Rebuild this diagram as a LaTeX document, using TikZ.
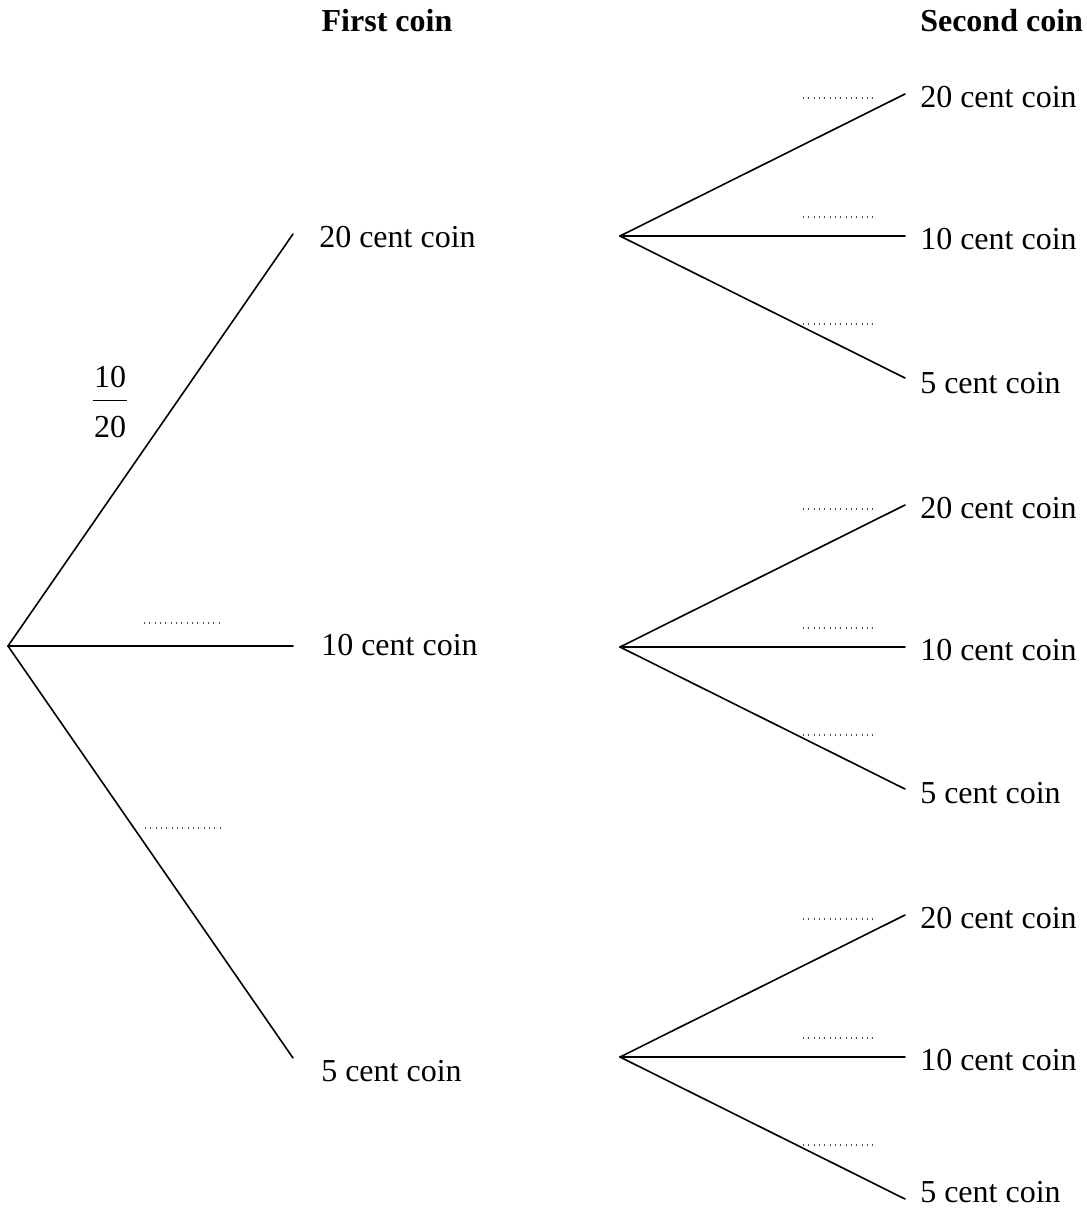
\documentclass[tikz,border=0pt]{standalone}
\usepackage{fontspec}
\setmainfont{Liberation Serif}
\begin{document}
\begin{tikzpicture}[x=0.75pt,y=-0.75pt,
  branch/.style={line width=1.2pt,line cap=round},
  blank/.style={line width=0.8pt,gray!60!black,dash pattern=on 0.8pt off 3.2pt},
  lbl/.style={anchor=west,inner sep=0pt,font=\fontsize{24}{28}\selectfont},
  head/.style={inner sep=0pt,font=\fontsize{24}{28}\selectfont\bfseries}]
\useasboundingbox (0,0) rectangle (1086,1218);
% headers
\node[head] (h1) at (387,21) {First coin};
\node[head,anchor=west] (h2) at (920,21) {Second coin};
% first level
\coordinate (r) at (8,646);
\coordinate (a) at (293,234);
\coordinate (b) at (293,646);
\coordinate (c) at (293,1058);
\node[lbl] (ta) at (319,237) {20 cent coin};
\node[lbl] (tb) at (321,645) {10 cent coin};
\node[lbl] (tc) at (321,1071) {5 cent coin};
\draw[branch] (r) -- (a);
\draw[branch] (r) -- (b);
\draw[branch] (r) -- (c);
\node[inner sep=0pt,font=\fontsize{24}{28}\selectfont] (frac) at (110,405)
  {\setlength{\arrayrulewidth}{1.1pt}\begin{tabular}{@{\kern1pt}c@{\kern1pt}}10\\[1pt]\hline\rule{0pt}{27pt}20\end{tabular}};
\coordinate (d1s) at (144,623); \coordinate (d1e) at (219,623);
\coordinate (d2s) at (145,828); \coordinate (d2e) at (220,828);
\draw[blank] (d1s) -- (d1e);
\draw[blank] (d2s) -- (d2e);
% second level
\foreach \n/\y/\o in {A/236/147,B/647/146,C/1057/135}{
  \coordinate (\n) at (620,\y);
  \coordinate (\n1) at (905,\y-142);
  \coordinate (\n2) at (905,\y);
  \coordinate (\n3) at (905,\y+142);
  \draw[branch] (\n) -- (\n1);
  \draw[branch] (\n) -- (\n2);
  \draw[branch] (\n) -- (\n3);
  \node[lbl] (t\n1) at (920,\y-139) {20 cent coin};
  \node[lbl] (t\n2) at (920,\y+3) {10 cent coin};
  \node[lbl] (t\n3) at (920,\y+\o) {5 cent coin};
  \coordinate (p\n1) at (803,\y-138); \coordinate (q\n1) at (877,\y-138);
  \coordinate (p\n2) at (803,\y-19);  \coordinate (q\n2) at (877,\y-19);
  \coordinate (p\n3) at (803,\y+88);  \coordinate (q\n3) at (877,\y+88);
  \draw[blank] (p\n1) -- (q\n1);
  \draw[blank] (p\n2) -- (q\n2);
  \draw[blank] (p\n3) -- (q\n3);
}
\end{tikzpicture}
\end{document}
